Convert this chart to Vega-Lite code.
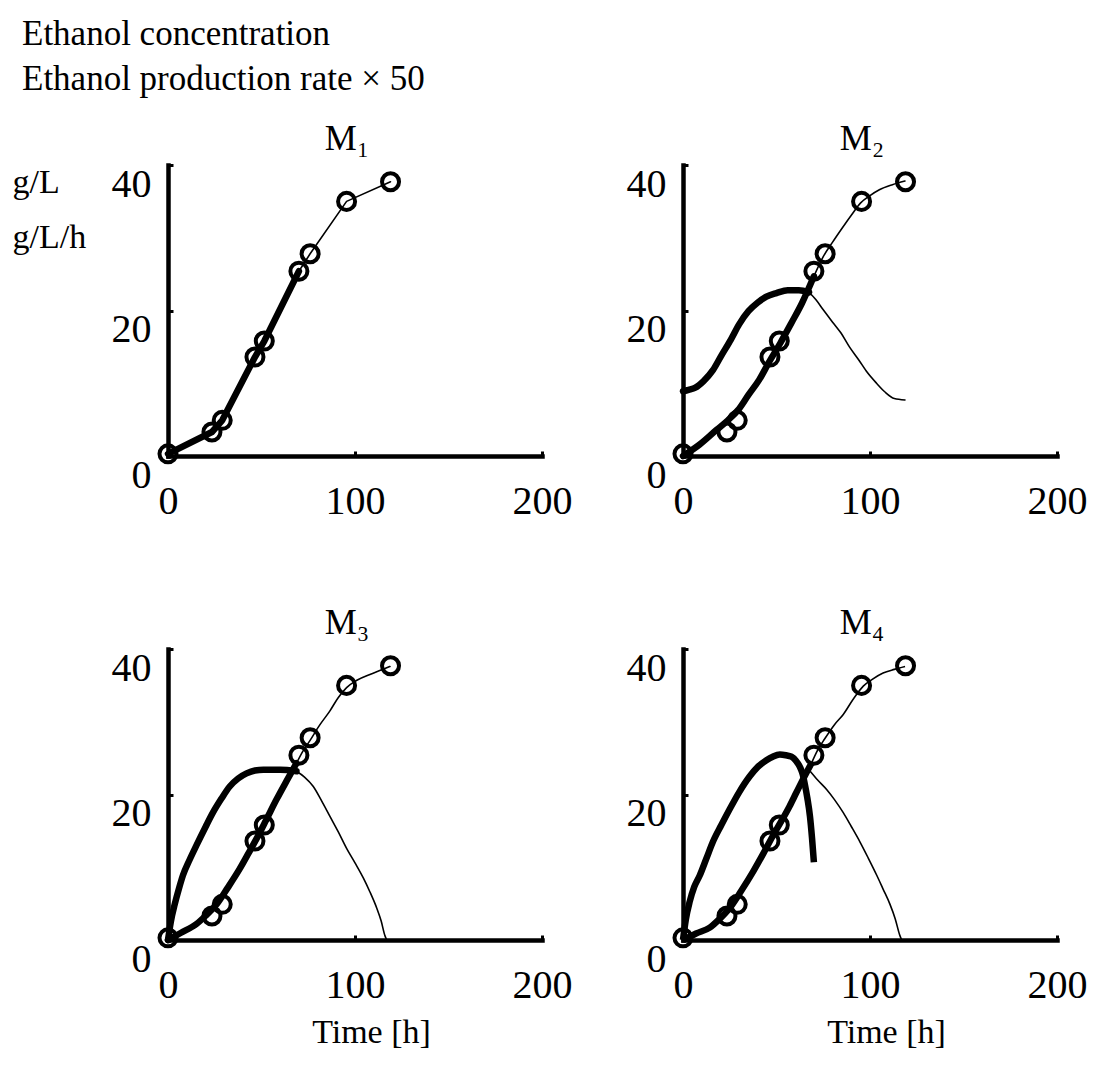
{
  "$schema": "https://vega.github.io/schema/vega-lite/v6.json",
  "background": "white",
  "padding": {"left": 12, "top": 16, "right": 5, "bottom": 5},
  "config": {
    "font": "Liberation Serif",
    "view": {"stroke": null},
    "axis": {
      "grid": false, "domainColor": "black", "domainWidth": 4.5, "domainCap": "square",
      "tickColor": "black", "tickWidth": 3, "tickSize": -5,
      "labelFont": "Liberation Serif", "labelFontSize": 40, "labelColor": "black",
      "labelFlush": false, "labelOverlap": false, "labelBound": false,
      "titleFont": "Liberation Serif", "titleFontWeight": "normal", "titleColor": "black", "titleFontSize": 34
    },
    "title": {"font": "Liberation Serif", "fontWeight": "normal", "color": "black"}
  },
  "title": {
    "text": ["Ethanol concentration", "Ethanol production rate × 50"],
    "anchor": "start", "fontSize": 35, "lineHeight": 45, "dx": 10, "offset": 24
  },
  "datasets": {
    "obs": [
      {"t": 0, "c": 0.3}, {"t": 23.5, "c": 3.3}, {"t": 29, "c": 4.9}, {"t": 46.5, "c": 13.6},
      {"t": 51.5, "c": 15.8}, {"t": 70, "c": 25.4}, {"t": 76, "c": 27.8}, {"t": 95.5, "c": 35}, {"t": 119, "c": 37.7}
    ],
    "curves": [
      {"panel": "M1", "curve": "conc", "phase": "fit", "t": 0, "v": 0.3},
      {"panel": "M1", "curve": "conc", "phase": "fit", "t": 23.5, "v": 3.3},
      {"panel": "M1", "curve": "conc", "phase": "fit", "t": 29, "v": 4.9},
      {"panel": "M1", "curve": "conc", "phase": "fit", "t": 46.5, "v": 13.6},
      {"panel": "M1", "curve": "conc", "phase": "fit", "t": 51.5, "v": 15.8},
      {"panel": "M1", "curve": "conc", "phase": "fit", "t": 70, "v": 25.4},
      {"panel": "M1", "curve": "conc", "phase": "prediction", "t": 70, "v": 25.4},
      {"panel": "M1", "curve": "conc", "phase": "prediction", "t": 76, "v": 27.8},
      {"panel": "M1", "curve": "conc", "phase": "prediction", "t": 95.5, "v": 35},
      {"panel": "M1", "curve": "conc", "phase": "prediction", "t": 119, "v": 37.7},

      {"panel": "M2", "curve": "rate", "phase": "fit", "t": 0, "v": 8.9},
      {"panel": "M2", "curve": "rate", "phase": "fit", "t": 3, "v": 9.1},
      {"panel": "M2", "curve": "rate", "phase": "fit", "t": 6.6, "v": 9.4},
      {"panel": "M2", "curve": "rate", "phase": "fit", "t": 11, "v": 10.3},
      {"panel": "M2", "curve": "rate", "phase": "fit", "t": 16, "v": 11.8},
      {"panel": "M2", "curve": "rate", "phase": "fit", "t": 20.5, "v": 13.8},
      {"panel": "M2", "curve": "rate", "phase": "fit", "t": 25.6, "v": 16},
      {"panel": "M2", "curve": "rate", "phase": "fit", "t": 30, "v": 18.1},
      {"panel": "M2", "curve": "rate", "phase": "fit", "t": 35, "v": 19.9},
      {"panel": "M2", "curve": "rate", "phase": "fit", "t": 40, "v": 21.1},
      {"panel": "M2", "curve": "rate", "phase": "fit", "t": 44.6, "v": 21.9},
      {"panel": "M2", "curve": "rate", "phase": "fit", "t": 50, "v": 22.4},
      {"panel": "M2", "curve": "rate", "phase": "fit", "t": 56, "v": 22.8},
      {"panel": "M2", "curve": "rate", "phase": "fit", "t": 62, "v": 22.8},
      {"panel": "M2", "curve": "rate", "phase": "fit", "t": 67.4, "v": 22.5},
      {"panel": "M2", "curve": "rate", "phase": "prediction", "t": 67.4, "v": 22.5},
      {"panel": "M2", "curve": "rate", "phase": "prediction", "t": 71, "v": 21.5},
      {"panel": "M2", "curve": "rate", "phase": "prediction", "t": 75, "v": 20.1},
      {"panel": "M2", "curve": "rate", "phase": "prediction", "t": 80, "v": 18.4},
      {"panel": "M2", "curve": "rate", "phase": "prediction", "t": 84.5, "v": 16.9},
      {"panel": "M2", "curve": "rate", "phase": "prediction", "t": 89, "v": 15},
      {"panel": "M2", "curve": "rate", "phase": "prediction", "t": 94, "v": 13.2},
      {"panel": "M2", "curve": "rate", "phase": "prediction", "t": 98.5, "v": 11.5},
      {"panel": "M2", "curve": "rate", "phase": "prediction", "t": 103.5, "v": 10},
      {"panel": "M2", "curve": "rate", "phase": "prediction", "t": 108, "v": 8.8},
      {"panel": "M2", "curve": "rate", "phase": "prediction", "t": 113, "v": 7.9},
      {"panel": "M2", "curve": "rate", "phase": "prediction", "t": 118.7, "v": 7.7},
      {"panel": "M2", "curve": "conc", "phase": "fit", "t": 0, "v": 0},
      {"panel": "M2", "curve": "conc", "phase": "fit", "t": 9, "v": 1.6},
      {"panel": "M2", "curve": "conc", "phase": "fit", "t": 18, "v": 3.6},
      {"panel": "M2", "curve": "conc", "phase": "fit", "t": 24, "v": 4.9},
      {"panel": "M2", "curve": "conc", "phase": "fit", "t": 29.4, "v": 6.3},
      {"panel": "M2", "curve": "conc", "phase": "fit", "t": 35, "v": 8.4},
      {"panel": "M2", "curve": "conc", "phase": "fit", "t": 40.8, "v": 10.5},
      {"panel": "M2", "curve": "conc", "phase": "fit", "t": 46, "v": 12.9},
      {"panel": "M2", "curve": "conc", "phase": "fit", "t": 52, "v": 15.5},
      {"panel": "M2", "curve": "conc", "phase": "fit", "t": 58, "v": 18.3},
      {"panel": "M2", "curve": "conc", "phase": "fit", "t": 63.6, "v": 21},
      {"panel": "M2", "curve": "conc", "phase": "fit", "t": 70, "v": 24.7},
      {"panel": "M2", "curve": "conc", "phase": "prediction", "t": 70, "v": 24.7},
      {"panel": "M2", "curve": "conc", "phase": "prediction", "t": 75, "v": 27.4},
      {"panel": "M2", "curve": "conc", "phase": "prediction", "t": 80, "v": 29.4},
      {"panel": "M2", "curve": "conc", "phase": "prediction", "t": 84.5, "v": 31.1},
      {"panel": "M2", "curve": "conc", "phase": "prediction", "t": 90, "v": 33.1},
      {"panel": "M2", "curve": "conc", "phase": "prediction", "t": 95, "v": 34.8},
      {"panel": "M2", "curve": "conc", "phase": "prediction", "t": 100, "v": 35.8},
      {"panel": "M2", "curve": "conc", "phase": "prediction", "t": 105, "v": 36.6},
      {"panel": "M2", "curve": "conc", "phase": "prediction", "t": 112, "v": 37.3},
      {"panel": "M2", "curve": "conc", "phase": "prediction", "t": 118.7, "v": 37.8},

      {"panel": "M3", "curve": "rate", "phase": "fit", "t": 0, "v": 0},
      {"panel": "M3", "curve": "rate", "phase": "fit", "t": 1.5, "v": 2.5},
      {"panel": "M3", "curve": "rate", "phase": "fit", "t": 3.6, "v": 4.9},
      {"panel": "M3", "curve": "rate", "phase": "fit", "t": 6, "v": 7.2},
      {"panel": "M3", "curve": "rate", "phase": "fit", "t": 8, "v": 8.9},
      {"panel": "M3", "curve": "rate", "phase": "fit", "t": 11.5, "v": 11},
      {"panel": "M3", "curve": "rate", "phase": "fit", "t": 15.2, "v": 13},
      {"panel": "M3", "curve": "rate", "phase": "fit", "t": 20, "v": 15.5},
      {"panel": "M3", "curve": "rate", "phase": "fit", "t": 24, "v": 17.5},
      {"panel": "M3", "curve": "rate", "phase": "fit", "t": 28.5, "v": 19.4},
      {"panel": "M3", "curve": "rate", "phase": "fit", "t": 33, "v": 21.1},
      {"panel": "M3", "curve": "rate", "phase": "fit", "t": 37.5, "v": 22.2},
      {"panel": "M3", "curve": "rate", "phase": "fit", "t": 42, "v": 22.9},
      {"panel": "M3", "curve": "rate", "phase": "fit", "t": 46.5, "v": 23.3},
      {"panel": "M3", "curve": "rate", "phase": "fit", "t": 51, "v": 23.4},
      {"panel": "M3", "curve": "rate", "phase": "fit", "t": 60, "v": 23.4},
      {"panel": "M3", "curve": "rate", "phase": "fit", "t": 68.7, "v": 23.2},
      {"panel": "M3", "curve": "rate", "phase": "prediction", "t": 68.7, "v": 23.2},
      {"panel": "M3", "curve": "rate", "phase": "prediction", "t": 73, "v": 22.4},
      {"panel": "M3", "curve": "rate", "phase": "prediction", "t": 77.7, "v": 21.1},
      {"panel": "M3", "curve": "rate", "phase": "prediction", "t": 82, "v": 19.2},
      {"panel": "M3", "curve": "rate", "phase": "prediction", "t": 86.6, "v": 17},
      {"panel": "M3", "curve": "rate", "phase": "prediction", "t": 91, "v": 14.9},
      {"panel": "M3", "curve": "rate", "phase": "prediction", "t": 95.5, "v": 12.6},
      {"panel": "M3", "curve": "rate", "phase": "prediction", "t": 100, "v": 10.6},
      {"panel": "M3", "curve": "rate", "phase": "prediction", "t": 104.5, "v": 8.5},
      {"panel": "M3", "curve": "rate", "phase": "prediction", "t": 108, "v": 6.6},
      {"panel": "M3", "curve": "rate", "phase": "prediction", "t": 111.6, "v": 4.4},
      {"panel": "M3", "curve": "rate", "phase": "prediction", "t": 114, "v": 2.6},
      {"panel": "M3", "curve": "rate", "phase": "prediction", "t": 116, "v": 0.6},
      {"panel": "M3", "curve": "rate", "phase": "prediction", "t": 117, "v": 0},
      {"panel": "M3", "curve": "conc", "phase": "fit", "t": 0, "v": 0},
      {"panel": "M3", "curve": "conc", "phase": "fit", "t": 7, "v": 1},
      {"panel": "M3", "curve": "conc", "phase": "fit", "t": 15.2, "v": 2.2},
      {"panel": "M3", "curve": "conc", "phase": "fit", "t": 20, "v": 3.3},
      {"panel": "M3", "curve": "conc", "phase": "fit", "t": 26, "v": 4.9},
      {"panel": "M3", "curve": "conc", "phase": "fit", "t": 32, "v": 7.2},
      {"panel": "M3", "curve": "conc", "phase": "fit", "t": 38.4, "v": 9.8},
      {"panel": "M3", "curve": "conc", "phase": "fit", "t": 43, "v": 11.9},
      {"panel": "M3", "curve": "conc", "phase": "fit", "t": 47.3, "v": 13.9},
      {"panel": "M3", "curve": "conc", "phase": "fit", "t": 52.5, "v": 16.5},
      {"panel": "M3", "curve": "conc", "phase": "fit", "t": 58, "v": 19.3},
      {"panel": "M3", "curve": "conc", "phase": "fit", "t": 63.5, "v": 21.9},
      {"panel": "M3", "curve": "conc", "phase": "fit", "t": 68.7, "v": 24.3},
      {"panel": "M3", "curve": "conc", "phase": "prediction", "t": 68.7, "v": 24.3},
      {"panel": "M3", "curve": "conc", "phase": "prediction", "t": 72, "v": 25.9},
      {"panel": "M3", "curve": "conc", "phase": "prediction", "t": 75.9, "v": 27.4},
      {"panel": "M3", "curve": "conc", "phase": "prediction", "t": 81, "v": 29.5},
      {"panel": "M3", "curve": "conc", "phase": "prediction", "t": 86.6, "v": 31.5},
      {"panel": "M3", "curve": "conc", "phase": "prediction", "t": 91, "v": 33.3},
      {"panel": "M3", "curve": "conc", "phase": "prediction", "t": 95.5, "v": 34.7},
      {"panel": "M3", "curve": "conc", "phase": "prediction", "t": 101, "v": 35.7},
      {"panel": "M3", "curve": "conc", "phase": "prediction", "t": 108, "v": 36.5},
      {"panel": "M3", "curve": "conc", "phase": "prediction", "t": 114, "v": 37.1},
      {"panel": "M3", "curve": "conc", "phase": "prediction", "t": 118.7, "v": 37.6},

      {"panel": "M4", "curve": "rate", "phase": "fit", "t": 0, "v": 0},
      {"panel": "M4", "curve": "rate", "phase": "fit", "t": 1.5, "v": 2.8},
      {"panel": "M4", "curve": "rate", "phase": "fit", "t": 3.6, "v": 5.3},
      {"panel": "M4", "curve": "rate", "phase": "fit", "t": 6, "v": 7.3},
      {"panel": "M4", "curve": "rate", "phase": "fit", "t": 9, "v": 8.9},
      {"panel": "M4", "curve": "rate", "phase": "fit", "t": 12.5, "v": 11.2},
      {"panel": "M4", "curve": "rate", "phase": "fit", "t": 16, "v": 13.5},
      {"panel": "M4", "curve": "rate", "phase": "fit", "t": 20.5, "v": 15.8},
      {"panel": "M4", "curve": "rate", "phase": "fit", "t": 25, "v": 18},
      {"panel": "M4", "curve": "rate", "phase": "fit", "t": 30, "v": 20.3},
      {"panel": "M4", "curve": "rate", "phase": "fit", "t": 35.7, "v": 22.5},
      {"panel": "M4", "curve": "rate", "phase": "fit", "t": 40, "v": 23.8},
      {"panel": "M4", "curve": "rate", "phase": "fit", "t": 44.6, "v": 24.7},
      {"panel": "M4", "curve": "rate", "phase": "fit", "t": 48, "v": 25.2},
      {"panel": "M4", "curve": "rate", "phase": "fit", "t": 51.8, "v": 25.5},
      {"panel": "M4", "curve": "rate", "phase": "fit", "t": 55, "v": 25.4},
      {"panel": "M4", "curve": "rate", "phase": "fit", "t": 58, "v": 25.2},
      {"panel": "M4", "curve": "rate", "phase": "fit", "t": 60.5, "v": 24.6},
      {"panel": "M4", "curve": "rate", "phase": "fit", "t": 62.5, "v": 23.8},
      {"panel": "M4", "curve": "rate", "phase": "fit", "t": 64, "v": 22.8},
      {"panel": "M4", "curve": "rate", "phase": "fit", "t": 65, "v": 21.6},
      {"panel": "M4", "curve": "rate", "phase": "fit", "t": 66.5, "v": 19.5},
      {"panel": "M4", "curve": "rate", "phase": "fit", "t": 67.9, "v": 17},
      {"panel": "M4", "curve": "rate", "phase": "fit", "t": 69, "v": 14},
      {"panel": "M4", "curve": "rate", "phase": "fit", "t": 70, "v": 10.7},
      {"panel": "M4", "curve": "ratepred", "phase": "prediction", "t": 68, "v": 23.2},
      {"panel": "M4", "curve": "ratepred", "phase": "prediction", "t": 72, "v": 22},
      {"panel": "M4", "curve": "ratepred", "phase": "prediction", "t": 76.8, "v": 20.7},
      {"panel": "M4", "curve": "ratepred", "phase": "prediction", "t": 81, "v": 19.3},
      {"panel": "M4", "curve": "ratepred", "phase": "prediction", "t": 85.7, "v": 17.5},
      {"panel": "M4", "curve": "ratepred", "phase": "prediction", "t": 90, "v": 15.6},
      {"panel": "M4", "curve": "ratepred", "phase": "prediction", "t": 94.6, "v": 13.5},
      {"panel": "M4", "curve": "ratepred", "phase": "prediction", "t": 99, "v": 11.3},
      {"panel": "M4", "curve": "ratepred", "phase": "prediction", "t": 103.6, "v": 8.9},
      {"panel": "M4", "curve": "ratepred", "phase": "prediction", "t": 107, "v": 7},
      {"panel": "M4", "curve": "ratepred", "phase": "prediction", "t": 110.7, "v": 4.9},
      {"panel": "M4", "curve": "ratepred", "phase": "prediction", "t": 113.5, "v": 2.9},
      {"panel": "M4", "curve": "ratepred", "phase": "prediction", "t": 116, "v": 0.6},
      {"panel": "M4", "curve": "ratepred", "phase": "prediction", "t": 117, "v": 0},
      {"panel": "M4", "curve": "conc", "phase": "fit", "t": 0, "v": 0},
      {"panel": "M4", "curve": "conc", "phase": "fit", "t": 7, "v": 0.9},
      {"panel": "M4", "curve": "conc", "phase": "fit", "t": 14.3, "v": 1.7},
      {"panel": "M4", "curve": "conc", "phase": "fit", "t": 20, "v": 3},
      {"panel": "M4", "curve": "conc", "phase": "fit", "t": 25, "v": 4.4},
      {"panel": "M4", "curve": "conc", "phase": "fit", "t": 31, "v": 6.7},
      {"panel": "M4", "curve": "conc", "phase": "fit", "t": 37.5, "v": 9.4},
      {"panel": "M4", "curve": "conc", "phase": "fit", "t": 43, "v": 11.9},
      {"panel": "M4", "curve": "conc", "phase": "fit", "t": 48, "v": 14.3},
      {"panel": "M4", "curve": "conc", "phase": "fit", "t": 52.5, "v": 16.3},
      {"panel": "M4", "curve": "conc", "phase": "fit", "t": 57, "v": 18.4},
      {"panel": "M4", "curve": "conc", "phase": "fit", "t": 60.5, "v": 20.2},
      {"panel": "M4", "curve": "conc", "phase": "fit", "t": 64, "v": 22},
      {"panel": "M4", "curve": "conc", "phase": "fit", "t": 68.7, "v": 24.3},
      {"panel": "M4", "curve": "conc", "phase": "prediction", "t": 68.7, "v": 24.3},
      {"panel": "M4", "curve": "conc", "phase": "prediction", "t": 72, "v": 26.1},
      {"panel": "M4", "curve": "conc", "phase": "prediction", "t": 75.9, "v": 27.7},
      {"panel": "M4", "curve": "conc", "phase": "prediction", "t": 81, "v": 29.6},
      {"panel": "M4", "curve": "conc", "phase": "prediction", "t": 85.7, "v": 31},
      {"panel": "M4", "curve": "conc", "phase": "prediction", "t": 91, "v": 33.1},
      {"panel": "M4", "curve": "conc", "phase": "prediction", "t": 96.4, "v": 34.9},
      {"panel": "M4", "curve": "conc", "phase": "prediction", "t": 101, "v": 35.8},
      {"panel": "M4", "curve": "conc", "phase": "prediction", "t": 107, "v": 36.7},
      {"panel": "M4", "curve": "conc", "phase": "prediction", "t": 113, "v": 37.2},
      {"panel": "M4", "curve": "conc", "phase": "prediction", "t": 118.75, "v": 37.6}
    ]
  },
  "columns": 2,
  "spacing": {"row": 193, "column": 141},
  "bounds": "flush",
  "concat": [
    {
      "width": 374, "height": 291,
      "title": {"text": "M₁", "fontSize": 36, "baseline": "alphabetic", "offset": -22, "dx": -8},
      "layer": [
        {
          "data": {"name": "curves"},
          "transform": [{"filter": "datum.panel === 'M1'"}],
          "mark": {"type": "line", "color": "black", "interpolate": "linear", "strokeCap": "round", "strokeJoin": "round"},
          "encoding": {
            "x": {"field": "t", "type": "quantitative", "scale": {"domain": [0, 200]},
              "axis": {"values": [0, 100, 200], "title": null, "labelPadding": 30}},
            "y": {"field": "v", "type": "quantitative", "scale": {"domain": [0, 40]},
              "axis": {"values": [0, 20, 40], "labelOffset": 19, "labelPadding": 22,
                "title": ["g/L", "g/L/h"], "titleAngle": 0, "titleAlign": "left", "titleBaseline": "alphabetic",
                "titleX": -156, "titleY": 27, "titleLineHeight": 55}},
            "detail": {"field": "curve"},
            "strokeWidth": {"field": "phase", "type": "nominal", "scale": {"domain": ["fit", "prediction"], "range": [6.5, 1.6]}, "legend": null}
          }
        },
        {
          "data": {"name": "obs"},
          "mark": {"type": "point", "shape": "circle", "filled": false, "color": "black", "strokeWidth": 4, "size": 290, "opacity": 1},
          "encoding": {
            "x": {"field": "t", "type": "quantitative"},
            "y": {"field": "c", "type": "quantitative"}
          }
        }
      ]
    },
    {
      "width": 374, "height": 291,
      "title": {"text": "M₂", "fontSize": 36, "baseline": "alphabetic", "offset": -22, "dx": -8},
      "layer": [
        {
          "data": {"name": "curves"},
          "transform": [{"filter": "datum.panel === 'M2'"}],
          "mark": {"type": "line", "color": "black", "interpolate": "monotone", "strokeCap": "round", "strokeJoin": "round"},
          "encoding": {
            "x": {"field": "t", "type": "quantitative", "scale": {"domain": [0, 200]},
              "axis": {"values": [0, 100, 200], "title": null, "labelPadding": 30}},
            "y": {"field": "v", "type": "quantitative", "scale": {"domain": [0, 40]},
              "axis": {"values": [0, 20, 40], "labelOffset": 19, "labelPadding": 22, "title": null}},
            "detail": {"field": "curve"},
            "strokeWidth": {"field": "phase", "type": "nominal", "scale": {"domain": ["fit", "prediction"], "range": [6.5, 1.6]}, "legend": null}
          }
        },
        {
          "data": {"name": "obs"},
          "mark": {"type": "point", "shape": "circle", "filled": false, "color": "black", "strokeWidth": 4, "size": 290, "opacity": 1},
          "encoding": {
            "x": {"field": "t", "type": "quantitative"},
            "y": {"field": "c", "type": "quantitative"}
          }
        }
      ]
    },
    {
      "width": 374, "height": 291,
      "title": {"text": "M₃", "fontSize": 36, "baseline": "alphabetic", "offset": -22, "dx": -8},
      "layer": [
        {
          "data": {"name": "curves"},
          "transform": [{"filter": "datum.panel === 'M3'"}],
          "mark": {"type": "line", "color": "black", "interpolate": "monotone", "strokeCap": "round", "strokeJoin": "round"},
          "encoding": {
            "x": {"field": "t", "type": "quantitative", "scale": {"domain": [0, 200]},
              "axis": {"values": [0, 100, 200], "title": "Time [h]", "labelPadding": 30,
                "titleX": 203, "titleY": 102, "titleBaseline": "alphabetic"}},
            "y": {"field": "v", "type": "quantitative", "scale": {"domain": [0, 40]},
              "axis": {"values": [0, 20, 40], "labelOffset": 19, "labelPadding": 22, "title": null}},
            "detail": {"field": "curve"},
            "strokeWidth": {"field": "phase", "type": "nominal", "scale": {"domain": ["fit", "prediction"], "range": [6.5, 1.6]}, "legend": null}
          }
        },
        {
          "data": {"name": "obs"},
          "mark": {"type": "point", "shape": "circle", "filled": false, "color": "black", "strokeWidth": 4, "size": 290, "opacity": 1},
          "encoding": {
            "x": {"field": "t", "type": "quantitative"},
            "y": {"field": "c", "type": "quantitative"}
          }
        }
      ]
    },
    {
      "width": 374, "height": 291,
      "title": {"text": "M₄", "fontSize": 36, "baseline": "alphabetic", "offset": -22, "dx": -8},
      "layer": [
        {
          "data": {"name": "curves"},
          "transform": [{"filter": "datum.panel === 'M4'"}],
          "mark": {"type": "line", "color": "black", "interpolate": "monotone", "strokeCap": "butt", "strokeJoin": "round"},
          "encoding": {
            "x": {"field": "t", "type": "quantitative", "scale": {"domain": [0, 200]},
              "axis": {"values": [0, 100, 200], "title": "Time [h]", "labelPadding": 30,
                "titleX": 203, "titleY": 102, "titleBaseline": "alphabetic"}},
            "y": {"field": "v", "type": "quantitative", "scale": {"domain": [0, 40]},
              "axis": {"values": [0, 20, 40], "labelOffset": 19, "labelPadding": 22, "title": null}},
            "detail": {"field": "curve"},
            "strokeWidth": {"field": "phase", "type": "nominal", "scale": {"domain": ["fit", "prediction"], "range": [6.5, 1.6]}, "legend": null}
          }
        },
        {
          "data": {"name": "obs"},
          "mark": {"type": "point", "shape": "circle", "filled": false, "color": "black", "strokeWidth": 4, "size": 290, "opacity": 1},
          "encoding": {
            "x": {"field": "t", "type": "quantitative"},
            "y": {"field": "c", "type": "quantitative"}
          }
        }
      ]
    }
  ]
}
